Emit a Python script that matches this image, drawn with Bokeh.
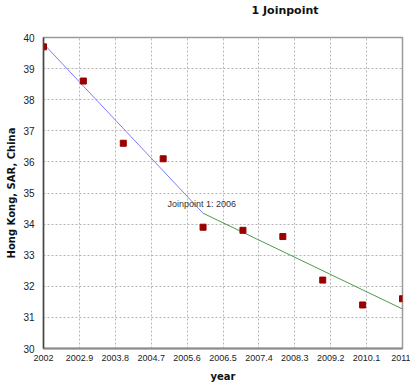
from bokeh.plotting import figure
from bokeh.models import Range1d, FixedTicker, Label, Title
from bokeh.embed import file_html
from bokeh.resources import INLINE

years = [2002, 2003, 2004, 2005, 2006, 2007, 2008, 2009, 2010, 2011]
rates = [39.7, 38.6, 36.6, 36.1, 33.9, 33.8, 33.6, 32.2, 31.4, 31.6]
seg1_x = [2002, 2006]
seg1_y = [39.8, 34.35]
seg2_x = [2006, 2011]
seg2_y = [34.35, 31.27]
x_ticks = [2002, 2002.9, 2003.8, 2004.7, 2005.6, 2006.5, 2007.4, 2008.3, 2009.2, 2010.1, 2011]
x_tick_labels = ["2002", "2002.9", "2003.8", "2004.7", "2005.6", "2006.5", "2007.4", "2008.3", "2009.2", "2010.1", "2011"]
y_ticks = [30, 31, 32, 33, 34, 35, 36, 37, 38, 39, 40]
title_text = "1 Joinpoint"
joinpoint_text = "Joinpoint 1:  2006"
joinpoint_x = 2006
joinpoint_y = 34.65

p = figure(frame_width=359, frame_height=311, output_backend="svg", toolbar_location=None,
           x_range=Range1d(2002, 2011), y_range=Range1d(30, 40),
           min_border_left=43, min_border_right=8, min_border_top=37, min_border_bottom=30)
p.background_fill_color = "white"
p.border_fill_color = "white"
p.outline_line_color = "#9a9a9a"
p.outline_line_width = 1.5

# spacer panel between the frame and the title, so the title sits at the top
p.add_layout(Title(text=" ", standoff=6, text_font="DejaVu Sans", text_font_size="10px"), "above")
p.add_layout(Title(text=title_text, align="left", offset=208, vertical_align="top", standoff=0,
                   text_font="DejaVu Sans", text_font_style="bold", text_font_size="11px",
                   text_color="#111111"), "above")

p.line(seg1_x, seg1_y, line_color="#7b7bff", line_width=1)
p.line(seg2_x, seg2_y, line_color="#4c9a4c", line_width=1)
p.scatter(years, rates, marker="square", size=6, fill_color="#990000", line_color="#990000")

p.xaxis.ticker = FixedTicker(ticks=x_ticks)
p.xaxis.major_label_overrides = dict(zip(x_ticks, x_tick_labels))
p.yaxis.ticker = FixedTicker(ticks=y_ticks)

for ax in (p.xaxis, p.yaxis):
    ax.major_tick_line_color = None
    ax.minor_tick_line_color = None
    ax.major_label_text_font = "Liberation Sans"
    ax.major_label_text_color = "#222222"
    ax.axis_label_text_font = "DejaVu Sans"
    ax.axis_label_text_font_style = "bold"
    ax.axis_label_text_font_size = "10px"
    ax.axis_label_text_color = "#111111"

p.xaxis.major_label_standoff = 0
p.yaxis.major_label_standoff = 3
p.xaxis.major_label_text_font_size = "9px"
p.yaxis.major_label_text_font_size = "10px"
p.xaxis.axis_label = "year"
p.yaxis.axis_label = "Hong Kong, SAR, China"
p.xaxis.axis_label_standoff = 7
p.yaxis.axis_label_standoff = 3
p.xaxis.axis_line_color = "#8a8a8a"
p.xaxis.axis_line_width = 2
p.yaxis.axis_line_color = "#444444"
p.yaxis.axis_line_width = 1.5

for g in (p.xgrid, p.ygrid):
    g.grid_line_color = "#b5b5b5"
    g.grid_line_dash = "2 2"
    g.grid_line_width = 1

p.add_layout(Label(x=joinpoint_x, y=joinpoint_y, text=joinpoint_text, text_align="center",
                   text_baseline="middle", text_font="Liberation Sans",
                   text_font_size="9px", text_color="#333333"))

open("out.html", "w").write(file_html(p, INLINE))
